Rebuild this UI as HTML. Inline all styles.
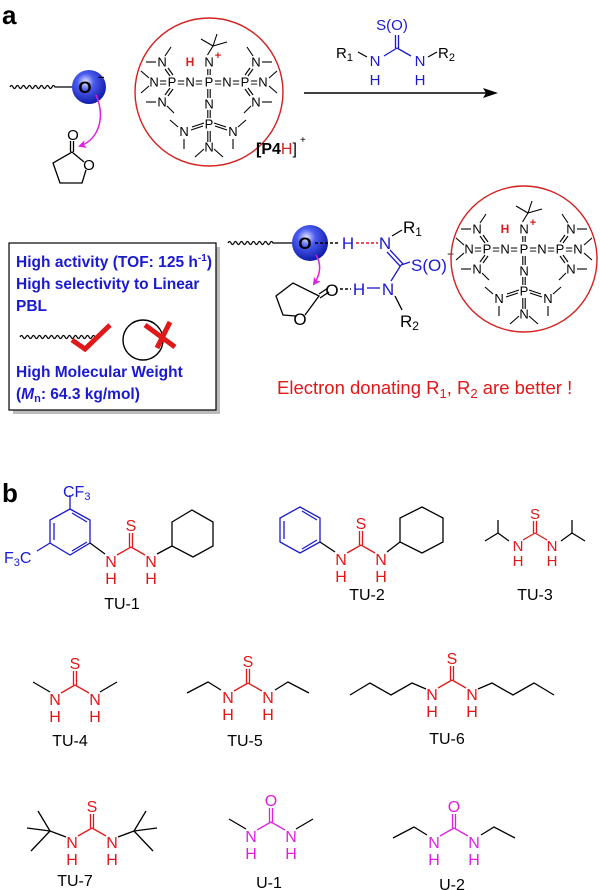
<!DOCTYPE html>
<html><head><meta charset="utf-8"><style>
html,body{margin:0;padding:0;background:#fff;width:600px;height:890px;overflow:hidden}
svg{display:block;font-family:"Liberation Sans",Arial,sans-serif}
</style></head><body>
<svg width="600" height="890" viewBox="0 0 600 890" xmlns="http://www.w3.org/2000/svg">
<defs>
<radialGradient id="sp" cx="0.4" cy="0.35" r="0.7">
<stop offset="0" stop-color="#e8eaff"/><stop offset="0.35" stop-color="#4a5cf0"/><stop offset="1" stop-color="#0a14a0"/>
</radialGradient>
<marker id="mg" markerWidth="8" markerHeight="8" refX="6" refY="4" orient="auto" markerUnits="userSpaceOnUse"><path d="M0,0 L8,4 L0,8 L2,4 z" fill="#e020e0"/></marker>
</defs>

<text x="2" y="24" font-size="26" font-weight="bold">a</text>

<path d="M10 87 q1.5 -3 3 0 t3 0 t3 0 t3 0 t3 0 t3 0 t3 0 t3 0 t3 0 t3 0 t3 0 t3 0 t3 0 t3 0 t3 0 L73 87" fill="none" stroke="#000" stroke-width="1.2"/>
<circle cx="89" cy="87" r="17" fill="url(#sp)"/>
<text x="85" y="93" font-size="17" font-weight="bold" text-anchor="middle">O</text>
<text x="98" y="81" font-size="11" font-weight="bold">−</text>
<path d="M96 95 C106 118 98 140 80 146" fill="none" stroke="#e020e0" stroke-width="1.5" marker-end="url(#mg)"/>
<g stroke="#000" stroke-width="1.3" fill="none">
<line x1="70.5" y1="152" x2="70.5" y2="141"/><line x1="73.5" y1="152" x2="73.5" y2="141"/>
<polyline points="84,162 72,152 53,163 60,183 82,183 86,170"/>
</g>
<text x="73" y="140" font-size="15" text-anchor="middle">O</text>
<text x="89" y="170" font-size="15" text-anchor="middle">O</text>

<circle cx="209" cy="92" r="74" fill="none" stroke="#d42020" stroke-width="1.4"/>
<g transform="translate(209,92)" font-size="13">
<text x="-55 -46 -37 -28 -19 -10 0 9 18 27 36 45 54" y="-5.5" text-anchor="middle">N=P=N=P=N=P=N</text>
<text x="0" y="-25.5" text-anchor="middle">N</text>
<text x="-19" y="-26" text-anchor="middle" fill="#d42020" font-weight="bold" font-size="12">H</text>
<text x="9" y="-33" text-anchor="middle" fill="#d42020" font-weight="bold" font-size="11">+</text>
<text x="0" y="16.5" text-anchor="middle">N</text>
<text x="0" y="36.5" text-anchor="middle">P</text>
<text x="-25" y="44" text-anchor="middle">N</text>
<text x="24" y="44" text-anchor="middle">N</text>
<text x="0" y="59.5" text-anchor="middle">N</text>
<text x="-47" y="-25.5" text-anchor="middle">N</text>
<text x="-47" y="14.5" text-anchor="middle">N</text>
<text x="47" y="-25.5" text-anchor="middle">N</text>
<text x="47" y="14.5" text-anchor="middle">N</text>
<g stroke="#000" stroke-width="1.1" fill="none">
<line x1="-1.2" y1="-23" x2="-1.2" y2="-17"/><line x1="1.2" y1="-23" x2="1.2" y2="-17"/>
<line x1="-1.2" y1="-3" x2="-1.2" y2="6"/><line x1="1.2" y1="-3" x2="1.2" y2="6"/>
<line x1="-1.2" y1="18" x2="-1.2" y2="26"/><line x1="1.2" y1="18" x2="1.2" y2="26"/>
<line x1="-1.2" y1="39" x2="-1.2" y2="50"/><line x1="1.2" y1="39" x2="1.2" y2="50"/>
<line x1="-1.5" y1="-37" x2="4" y2="-46"/><line x1="4" y1="-46" x2="-8" y2="-53"/><line x1="4" y1="-46" x2="18" y2="-50"/><line x1="4" y1="-46" x2="8" y2="-58"/>
<line x1="-5" y1="57" x2="-14" y2="65"/><line x1="5" y1="57" x2="14" y2="65"/>
<g>
<line x1="-6" y1="34" x2="-18" y2="38"/><line x1="-5" y1="31" x2="-17" y2="35"/>
<line x1="-31" y1="35" x2="-39" y2="28"/><line x1="-25" y1="47" x2="-25" y2="57"/>
<line x1="-39" y1="-16" x2="-44" y2="-23"/><line x1="-36" y1="-17" x2="-41" y2="-24"/>
<line x1="-39" y1="-4" x2="-44" y2="3"/><line x1="-36" y1="-3" x2="-41" y2="4"/>
<line x1="-63" y1="-30" x2="-53" y2="-30"/><line x1="-44" y1="-36" x2="-38" y2="-45"/>
<line x1="-63" y1="10" x2="-53" y2="10"/><line x1="-42" y1="14" x2="-35" y2="21"/>
<line x1="-60" y1="-14" x2="-68" y2="-21"/><line x1="-60" y1="-6" x2="-68" y2="1"/>
</g>
<g transform="scale(-1,1)">
<line x1="-6" y1="34" x2="-18" y2="38"/><line x1="-5" y1="31" x2="-17" y2="35"/>
<line x1="-29" y1="35" x2="-37" y2="28"/><line x1="-24" y1="47" x2="-24" y2="57"/>
<line x1="-39" y1="-16" x2="-44" y2="-23"/><line x1="-36" y1="-17" x2="-41" y2="-24"/>
<line x1="-39" y1="-4" x2="-44" y2="3"/><line x1="-36" y1="-3" x2="-41" y2="4"/>
<line x1="-63" y1="-30" x2="-53" y2="-30"/><line x1="-44" y1="-36" x2="-38" y2="-45"/>
<line x1="-63" y1="10" x2="-53" y2="10"/><line x1="-42" y1="14" x2="-35" y2="21"/>
<line x1="-60" y1="-14" x2="-68" y2="-21"/><line x1="-60" y1="-6" x2="-68" y2="1"/>
</g>
</g>
</g>
<text x="256" y="154" font-size="16" font-weight="bold">[P4<tspan fill="#d42020" font-weight="normal">H</tspan><tspan font-weight="normal">]</tspan></text>
<text x="300" y="143" font-size="10">+</text>

<g stroke="#1a1ad0" stroke-width="1.3">
<line x1="395.5" y1="35" x2="395.5" y2="48"/><line x1="398.5" y1="35" x2="398.5" y2="48"/>
<line x1="397" y1="48" x2="384" y2="56"/><line x1="397" y1="48" x2="411" y2="56"/>
</g>
<g fill="#1a1ad0" font-size="15" text-anchor="middle">
<text x="392" y="30">S(O)</text><text x="375" y="66">N</text><text x="375" y="85">H</text>
<text x="420" y="66">N</text><text x="420" y="85">H</text>
</g>
<line x1="358" y1="52" x2="367" y2="57" stroke="#000" stroke-width="1.2"/><line x1="428" y1="57" x2="437" y2="52" stroke="#000" stroke-width="1.2"/>
<text x="336" y="58" font-size="15">R<tspan font-size="11" dy="3">1</tspan></text>
<text x="438" y="58" font-size="15">R<tspan font-size="11" dy="3">2</tspan></text>
<line x1="304" y1="93" x2="488" y2="93" stroke="#000" stroke-width="1.4"/>
<polygon points="498,93 483,88 486,93 483,98" fill="#000"/>

<rect x="13" y="247" width="207" height="167" fill="#bbb"/>
<rect x="9" y="243" width="207" height="167" fill="#fff" stroke="#000" stroke-width="1.2"/>
<g fill="#1a1ad0" font-size="15.5" font-weight="bold">
<text x="16" y="267" textLength="196">High activity (TOF: 125 h<tspan font-size="10" dy="-6">-1</tspan><tspan dy="6">)</tspan></text>
<text x="16" y="289">High selectivity to Linear</text>
<text x="16" y="311">PBL</text>
<text x="16" y="377">High Molecular Weight</text>
<text x="16" y="399">(<tspan font-style="italic">M</tspan><tspan font-size="11" dy="3">n</tspan><tspan dy="-3">: 64.3 kg/mol)</tspan></text>
</g>
<path d="M20 337 q1.5 -3 3 0 t3 0 t3 0 t3 0 t3 0 t3 0 t3 0 t3 0 t3 0 t3 0 t3 0 t3 0 t3 0 t3 0 t3 0 t3 0 t3 0 t3 0 t3 0 t3 0 t3 0 t3 0 t3 0 t3 0 t3 0 t3 0" fill="none" stroke="#000" stroke-width="1.2"/>
<polyline points="72,340 85,349 110,325" fill="none" stroke="#e01818" stroke-width="5"/>
<circle cx="143" cy="340" r="20" fill="none" stroke="#000" stroke-width="1.4"/>
<line x1="145" y1="325" x2="175" y2="347" stroke="#e01818" stroke-width="5"/>
<line x1="157" y1="348" x2="170" y2="322" stroke="#e01818" stroke-width="5"/>

<path d="M228 243 q1.5 -3 3 0 t3 0 t3 0 t3 0 t3 0 t3 0 t3 0 t3 0 t3 0 t3 0 t3 0 t3 0 t3 0 t3 0 t3 0 L298 243" fill="none" stroke="#000" stroke-width="1.2"/>
<circle cx="310" cy="243" r="18" fill="url(#sp)"/>
<text x="305" y="249" font-size="17" font-weight="bold" text-anchor="middle">O</text>
<line x1="315" y1="243" x2="340" y2="243" stroke="#000" stroke-width="1.4" stroke-dasharray="3,2"/>
<text x="348" y="249" font-size="17" fill="#1a1ad0" text-anchor="middle">H</text>
<line x1="356" y1="243" x2="378" y2="243" stroke="#e01818" stroke-width="1.4" stroke-dasharray="3,2"/>
<text x="385" y="249" font-size="17" fill="#1a1ad0" text-anchor="middle">N</text>
<line x1="392" y1="236" x2="402" y2="230" stroke="#000" stroke-width="1.2"/>
<text x="403" y="233" font-size="17">R<tspan font-size="12" dy="3">1</tspan></text>
<g stroke="#1a1ad0" stroke-width="1.3">
<line x1="387" y1="252" x2="400" y2="266"/><line x1="390" y1="250" x2="403" y2="264"/>
<line x1="401" y1="265" x2="410" y2="262"/>
<line x1="401" y1="265" x2="391" y2="281"/>
<line x1="367" y1="288" x2="380" y2="288"/>
</g>
<text x="411" y="271" font-size="17" fill="#1a1ad0">S(O)</text>
<text x="447" y="258" font-size="12">−</text>
<path d="M316 255 C322 265 320 275 314 284" fill="none" stroke="#e020e0" stroke-width="1.5" marker-end="url(#mg)"/>
<g stroke="#000" stroke-width="1.3" fill="none">
<line x1="319" y1="294" x2="328" y2="288"/><line x1="320" y1="298" x2="329" y2="292"/>
<polyline points="305,315 319,296 293,283 276,296 283,315 296,316"/>
<line x1="395" y1="296" x2="402" y2="310"/>
</g>
<text x="332" y="296" font-size="17" text-anchor="middle">O</text>
<line x1="340" y1="289" x2="351" y2="289" stroke="#000" stroke-width="1.4" stroke-dasharray="3,2"/>
<text x="359" y="295" font-size="17" fill="#1a1ad0" text-anchor="middle">H</text>
<text x="388" y="295" font-size="17" fill="#1a1ad0" text-anchor="middle">N</text>
<text x="300" y="325" font-size="17" text-anchor="middle">O</text>
<text x="400" y="327" font-size="17">R<tspan font-size="12" dy="3">2</tspan></text>

<circle cx="524" cy="259" r="73" fill="none" stroke="#d42020" stroke-width="1.4"/>
<g transform="translate(524,259)" font-size="13">
<text x="-55 -46 -37 -28 -19 -10 0 9 18 27 36 45 54" y="-5.5" text-anchor="middle">N=P=N=P=N=P=N</text>
<text x="0" y="-25.5" text-anchor="middle">N</text>
<text x="-19" y="-26" text-anchor="middle" fill="#d42020" font-weight="bold" font-size="12">H</text>
<text x="9" y="-33" text-anchor="middle" fill="#d42020" font-weight="bold" font-size="11">+</text>
<text x="0" y="16.5" text-anchor="middle">N</text>
<text x="0" y="36.5" text-anchor="middle">P</text>
<text x="-25" y="44" text-anchor="middle">N</text>
<text x="24" y="44" text-anchor="middle">N</text>
<text x="0" y="59.5" text-anchor="middle">N</text>
<text x="-47" y="-25.5" text-anchor="middle">N</text>
<text x="-47" y="14.5" text-anchor="middle">N</text>
<text x="47" y="-25.5" text-anchor="middle">N</text>
<text x="47" y="14.5" text-anchor="middle">N</text>
<g stroke="#000" stroke-width="1.1" fill="none">
<line x1="-1.2" y1="-23" x2="-1.2" y2="-17"/><line x1="1.2" y1="-23" x2="1.2" y2="-17"/>
<line x1="-1.2" y1="-3" x2="-1.2" y2="6"/><line x1="1.2" y1="-3" x2="1.2" y2="6"/>
<line x1="-1.2" y1="18" x2="-1.2" y2="26"/><line x1="1.2" y1="18" x2="1.2" y2="26"/>
<line x1="-1.2" y1="39" x2="-1.2" y2="50"/><line x1="1.2" y1="39" x2="1.2" y2="50"/>
<line x1="-1.5" y1="-37" x2="4" y2="-46"/><line x1="4" y1="-46" x2="-8" y2="-53"/><line x1="4" y1="-46" x2="18" y2="-50"/><line x1="4" y1="-46" x2="8" y2="-58"/>
<line x1="-5" y1="57" x2="-14" y2="65"/><line x1="5" y1="57" x2="14" y2="65"/>
<g>
<line x1="-6" y1="34" x2="-18" y2="38"/><line x1="-5" y1="31" x2="-17" y2="35"/>
<line x1="-31" y1="35" x2="-39" y2="28"/><line x1="-25" y1="47" x2="-25" y2="57"/>
<line x1="-39" y1="-16" x2="-44" y2="-23"/><line x1="-36" y1="-17" x2="-41" y2="-24"/>
<line x1="-39" y1="-4" x2="-44" y2="3"/><line x1="-36" y1="-3" x2="-41" y2="4"/>
<line x1="-63" y1="-30" x2="-53" y2="-30"/><line x1="-44" y1="-36" x2="-38" y2="-45"/>
<line x1="-63" y1="10" x2="-53" y2="10"/><line x1="-42" y1="14" x2="-35" y2="21"/>
<line x1="-60" y1="-14" x2="-68" y2="-21"/><line x1="-60" y1="-6" x2="-68" y2="1"/>
</g>
<g transform="scale(-1,1)">
<line x1="-6" y1="34" x2="-18" y2="38"/><line x1="-5" y1="31" x2="-17" y2="35"/>
<line x1="-29" y1="35" x2="-37" y2="28"/><line x1="-24" y1="47" x2="-24" y2="57"/>
<line x1="-39" y1="-16" x2="-44" y2="-23"/><line x1="-36" y1="-17" x2="-41" y2="-24"/>
<line x1="-39" y1="-4" x2="-44" y2="3"/><line x1="-36" y1="-3" x2="-41" y2="4"/>
<line x1="-63" y1="-30" x2="-53" y2="-30"/><line x1="-44" y1="-36" x2="-38" y2="-45"/>
<line x1="-63" y1="10" x2="-53" y2="10"/><line x1="-42" y1="14" x2="-35" y2="21"/>
<line x1="-60" y1="-14" x2="-68" y2="-21"/><line x1="-60" y1="-6" x2="-68" y2="1"/>
</g>
</g>
</g>

<text x="277" y="394" font-size="18.5" fill="#e01818">Electron donating R<tspan font-size="13" dy="4">1</tspan><tspan dy="-4">, R</tspan><tspan font-size="13" dy="4">2</tspan><tspan dy="-4"> are better !</tspan></text>

<text x="2" y="502" font-size="26" font-weight="bold">b</text>

<g stroke="#1a1ad0" stroke-width="1.3" fill="none">
<polygon points="70,509 90,520 90,543 70,555 50,543 50,520"/>
<line x1="54" y1="523" x2="54" y2="540"/><line x1="72" y1="513" x2="87" y2="522"/><line x1="72" y1="551" x2="87" y2="542"/>
<line x1="70" y1="509" x2="70" y2="495"/><line x1="50" y1="543" x2="37" y2="551"/>
</g>
<text x="63" y="497" font-size="16" fill="#1a1ad0">CF<tspan font-size="11" dy="3">3</tspan></text>
<text x="4" y="563" font-size="16" fill="#1a1ad0">F<tspan font-size="11" dy="3">3</tspan><tspan dy="-3">C</tspan></text>
<line x1="90" y1="543" x2="105" y2="554" stroke="#000" stroke-width="1.3"/>
<polygon points="172,522 192,510 213,522 213,546 193,557 172,546" fill="none" stroke="#000" stroke-width="1.3"/>
<line x1="157" y1="554" x2="172" y2="546" stroke="#000" stroke-width="1.3"/>
<g transform="translate(131,547)"><g stroke="#e01818" stroke-width="1.3"><line x1="-1.5" y1="0" x2="-1.5" y2="-14"/><line x1="1.5" y1="0" x2="1.5" y2="-14"/><line x1="0" y1="0" x2="-14" y2="8"/><line x1="0" y1="0" x2="14" y2="8"/></g><g fill="#e01818" font-size="16" text-anchor="middle"><text x="0" y="-16">S</text><text x="-20" y="20">N</text><text x="-20" y="37">H</text><text x="20" y="20">N</text><text x="20" y="37">H</text></g></g>
<text x="122" y="609" font-size="16" text-anchor="middle">TU-1</text>

<g stroke="#1a1ad0" stroke-width="1.3" fill="none">
<polygon points="300,507 320,518 320,542 300,553 280,542 280,518"/>
<line x1="284" y1="521" x2="284" y2="539"/><line x1="302" y1="511" x2="317" y2="520"/><line x1="302" y1="549" x2="317" y2="540"/>
</g>
<line x1="320" y1="542" x2="335" y2="552" stroke="#000" stroke-width="1.3"/>
<polygon points="422,507 443,518 443,542 422,553 400,542 400,518" fill="none" stroke="#000" stroke-width="1.3"/>
<line x1="387" y1="552" x2="400" y2="542" stroke="#000" stroke-width="1.3"/>
<g transform="translate(361,545)"><g stroke="#e01818" stroke-width="1.3"><line x1="-1.5" y1="0" x2="-1.5" y2="-14"/><line x1="1.5" y1="0" x2="1.5" y2="-14"/><line x1="0" y1="0" x2="-14" y2="8"/><line x1="0" y1="0" x2="14" y2="8"/></g><g fill="#e01818" font-size="16" text-anchor="middle"><text x="0" y="-16">S</text><text x="-20" y="20">N</text><text x="-20" y="37">H</text><text x="20" y="20">N</text><text x="20" y="37">H</text></g></g>
<text x="367" y="600" font-size="16" text-anchor="middle">TU-2</text>

<g transform="translate(535,533)"><g stroke="#000" stroke-width="1.3" fill="none"><polyline points="-26,8 -37,0 -50,8"/><line x1="-37" y1="0" x2="-37" y2="-13"/><polyline points="26,8 37,0 50,8"/><line x1="37" y1="0" x2="37" y2="-13"/></g><g stroke="#e01818" stroke-width="1.3"><line x1="-1.5" y1="0" x2="-1.5" y2="-12"/><line x1="1.5" y1="0" x2="1.5" y2="-12"/><line x1="0" y1="0" x2="-12" y2="7"/><line x1="0" y1="0" x2="12" y2="7"/></g><g fill="#e01818" font-size="15" text-anchor="middle"><text x="0" y="-14">S</text><text x="-17" y="18">N</text><text x="-17" y="33">H</text><text x="17" y="18">N</text><text x="17" y="33">H</text></g></g>
<text x="535" y="600" font-size="16" text-anchor="middle">TU-3</text>

<g transform="translate(75,685)"><g stroke="#000" stroke-width="1.3" fill="none"><line x1="-25" y1="7" x2="-42" y2="-3"/><line x1="25" y1="7" x2="42" y2="-3"/></g><g stroke="#e01818" stroke-width="1.3"><line x1="-1.5" y1="0" x2="-1.5" y2="-14"/><line x1="1.5" y1="0" x2="1.5" y2="-14"/><line x1="0" y1="0" x2="-14" y2="8"/><line x1="0" y1="0" x2="14" y2="8"/></g><g fill="#e01818" font-size="16" text-anchor="middle"><text x="0" y="-16">S</text><text x="-20" y="20">N</text><text x="-20" y="37">H</text><text x="20" y="20">N</text><text x="20" y="37">H</text></g></g>
<text x="70" y="746" font-size="16" text-anchor="middle">TU-4</text>

<g transform="translate(248,683)"><g stroke="#000" stroke-width="1.3" fill="none"><polyline points="-27,7 -40,-1 -61,10"/><polyline points="27,7 40,-1 61,10"/></g><g stroke="#e01818" stroke-width="1.3"><line x1="-1.5" y1="0" x2="-1.5" y2="-14"/><line x1="1.5" y1="0" x2="1.5" y2="-14"/><line x1="0" y1="0" x2="-14" y2="8"/><line x1="0" y1="0" x2="14" y2="8"/></g><g fill="#e01818" font-size="16" text-anchor="middle"><text x="0" y="-16">S</text><text x="-20" y="20">N</text><text x="-20" y="37">H</text><text x="20" y="20">N</text><text x="20" y="37">H</text></g></g>
<text x="245" y="746" font-size="16" text-anchor="middle">TU-5</text>

<g transform="translate(452,680)"><g stroke="#000" stroke-width="1.3" fill="none"><polyline points="-26,9 -40,3 -61,15 -82,3 -102,15"/><polyline points="26,9 40,3 61,15 82,3 102,15"/></g><g stroke="#e01818" stroke-width="1.3"><line x1="-1.5" y1="0" x2="-1.5" y2="-14"/><line x1="1.5" y1="0" x2="1.5" y2="-14"/><line x1="0" y1="0" x2="-14" y2="8"/><line x1="0" y1="0" x2="14" y2="8"/></g><g fill="#e01818" font-size="16" text-anchor="middle"><text x="0" y="-16">S</text><text x="-20" y="20">N</text><text x="-20" y="37">H</text><text x="20" y="20">N</text><text x="20" y="37">H</text></g></g>
<text x="447" y="744" font-size="16" text-anchor="middle">TU-6</text>

<g transform="translate(92,828)"><g stroke="#000" stroke-width="1.3" fill="none"><line x1="-26" y1="9" x2="-42" y2="3"/><line x1="-42" y1="3" x2="-54" y2="-17"/><line x1="-42" y1="3" x2="-65" y2="0"/><line x1="-42" y1="3" x2="-61" y2="23"/><line x1="26" y1="9" x2="42" y2="3"/><line x1="42" y1="3" x2="54" y2="-17"/><line x1="42" y1="3" x2="65" y2="0"/><line x1="42" y1="3" x2="61" y2="23"/></g><g stroke="#e01818" stroke-width="1.3"><line x1="-1.5" y1="0" x2="-1.5" y2="-14"/><line x1="1.5" y1="0" x2="1.5" y2="-14"/><line x1="0" y1="0" x2="-14" y2="8"/><line x1="0" y1="0" x2="14" y2="8"/></g><g fill="#e01818" font-size="16" text-anchor="middle"><text x="0" y="-16">S</text><text x="-20" y="20">N</text><text x="-20" y="37">H</text><text x="20" y="20">N</text><text x="20" y="37">H</text></g></g>
<text x="75" y="886" font-size="16" text-anchor="middle">TU-7</text>

<g transform="translate(271,822)"><g stroke="#000" stroke-width="1.3" fill="none"><line x1="-25" y1="7" x2="-42" y2="-3"/><line x1="25" y1="7" x2="42" y2="-3"/></g><g stroke="#e020e0" stroke-width="1.3"><line x1="-1.5" y1="0" x2="-1.5" y2="-14"/><line x1="1.5" y1="0" x2="1.5" y2="-14"/><line x1="0" y1="0" x2="-14" y2="8"/><line x1="0" y1="0" x2="14" y2="8"/></g><g fill="#e020e0" font-size="16" text-anchor="middle"><text x="0" y="-16">O</text><text x="-20" y="20">N</text><text x="-20" y="37">H</text><text x="20" y="20">N</text><text x="20" y="37">H</text></g></g>
<text x="269" y="888" font-size="16" text-anchor="middle">U-1</text>

<g transform="translate(454,828)"><g stroke="#000" stroke-width="1.3" fill="none"><polyline points="-27,7 -40,-1 -61,10"/><polyline points="27,7 40,-1 61,10"/></g><g stroke="#e020e0" stroke-width="1.3"><line x1="-1.5" y1="0" x2="-1.5" y2="-14"/><line x1="1.5" y1="0" x2="1.5" y2="-14"/><line x1="0" y1="0" x2="-14" y2="8"/><line x1="0" y1="0" x2="14" y2="8"/></g><g fill="#e020e0" font-size="16" text-anchor="middle"><text x="0" y="-16">O</text><text x="-20" y="20">N</text><text x="-20" y="37">H</text><text x="20" y="20">N</text><text x="20" y="37">H</text></g></g>
<text x="452" y="890" font-size="16" text-anchor="middle">U-2</text>
</svg>
</body></html>
